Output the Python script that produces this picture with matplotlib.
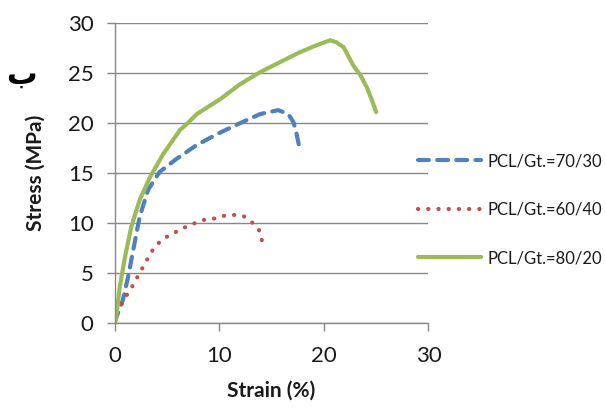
import matplotlib
matplotlib.use("Agg")
import matplotlib.pyplot as plt

# Data (strain %, stress MPa)
strain_7030 = [0, 0.2, 0.8, 1.3, 1.9, 2.4, 3.2, 4.3, 5.9, 7.85, 9.8, 11.8, 13.9, 15.65,
               16.6, 17.1, 17.4, 17.7]
stress_7030 = [0, 0.6, 2.3, 4.6, 7.9, 10.6, 13.3, 15.1, 16.4, 17.8, 18.9, 19.9, 20.9, 21.3,
               20.9, 20.1, 18.9, 17.4]

strain_6040 = [0, 0.2, 0.8, 1.3, 1.85, 2.35, 2.9, 3.4, 4.0, 4.8, 5.7, 6.6, 7.5, 8.5, 9.4,
               10.4, 11.35, 12.3, 13.1, 13.8, 14.1]
stress_6040 = [0, 0.9, 2.1, 3.0, 3.9, 4.9, 5.9, 6.9, 7.8, 8.5, 9.0, 9.5, 9.9, 10.3, 10.4,
               10.7, 10.8, 10.7, 10.1, 9.3, 8.2]

strain_8020 = [0, 0.12, 0.5, 1.0, 1.6, 2.4, 3.4, 4.65, 6.25, 7.0, 7.85, 10.1, 12.0, 13.9, 15.8,
               17.7, 19.3, 20.6, 21.2, 21.9, 22.4, 22.8, 23.5, 24.1, 24.6, 25.0]
stress_8020 = [0, 0.27, 3.6, 6.6, 9.6, 12.3, 14.6, 16.9, 19.3, 20.0, 20.9, 22.4, 23.9, 25.1, 26.1,
               27.1, 27.8, 28.3, 28.1, 27.6, 26.6, 25.8, 24.8, 23.6, 22.3, 21.1]

labels = ["PCL/Gt.=70/30", "PCL/Gt.=60/40", "PCL/Gt.=80/20"]
x_ticks = [0, 10, 20, 30]
y_ticks = [0, 5, 10, 15, 20, 25, 30]

plt.rcParams['font.family'] = ['Lato', 'DejaVu Sans']

fig = plt.figure(figsize=(6.06, 4.09), dpi=100)
ax = fig.add_axes([0.189, 0.211, 0.518, 0.732])

grid_c = '#888888'
ax.plot(strain_7030, stress_7030, color='#4F81BD', lw=3.0,
        linestyle=(0, (2.6, 2.0)), dash_capstyle='round', solid_joinstyle='round',
        label=labels[0])
ax.plot(strain_6040, stress_6040, color='#C0504D', lw=3.0,
        linestyle=(0, (0.05, 2.4)), dash_capstyle='round', label=labels[1])
ax.plot(strain_8020, stress_8020, color='#9BBB59', lw=3.0,
        solid_capstyle='round', solid_joinstyle='round', label=labels[2])

ax.set_xlim(0, 30)
ax.set_ylim(0, 30)
ax.set_xticks(x_ticks)
ax.set_yticks(y_ticks)
ax.yaxis.grid(True, color=grid_c, lw=1.0)
ax.set_axisbelow(True)
for s in ['top', 'right']:
    ax.spines[s].set_visible(False)
for s in ['left', 'bottom']:
    ax.spines[s].set_color(grid_c)
    ax.spines[s].set_linewidth(1.0)
ax.tick_params(axis='both', colors=grid_c, length=6, width=1.0, labelsize=16,
               labelcolor='#1a1a1a')
ax.tick_params(axis='y', pad=9)
ax.tick_params(axis='x', pad=11)

ax.set_xlabel("Strain (%)", fontsize=15, fontweight='bold', labelpad=10, color='#1a1a1a')
ax.set_ylabel("Stress (MPa)", fontsize=15, fontweight='bold', labelpad=16, color='#1a1a1a')

fig.text(0.036, 0.815, "ب", fontsize=22, fontweight='bold', ha='center', va='center',
         family=['DejaVu Sans'])

leg = fig.legend(loc='center left', bbox_to_anchor=(0.665, 0.487), frameon=False,
                 fontsize=12, handlelength=3.8, labelspacing=1.95, handletextpad=0.4)
for t in leg.get_texts():
    t.set_color('#1a1a1a')

fig.savefig("out.png", dpi=100)
